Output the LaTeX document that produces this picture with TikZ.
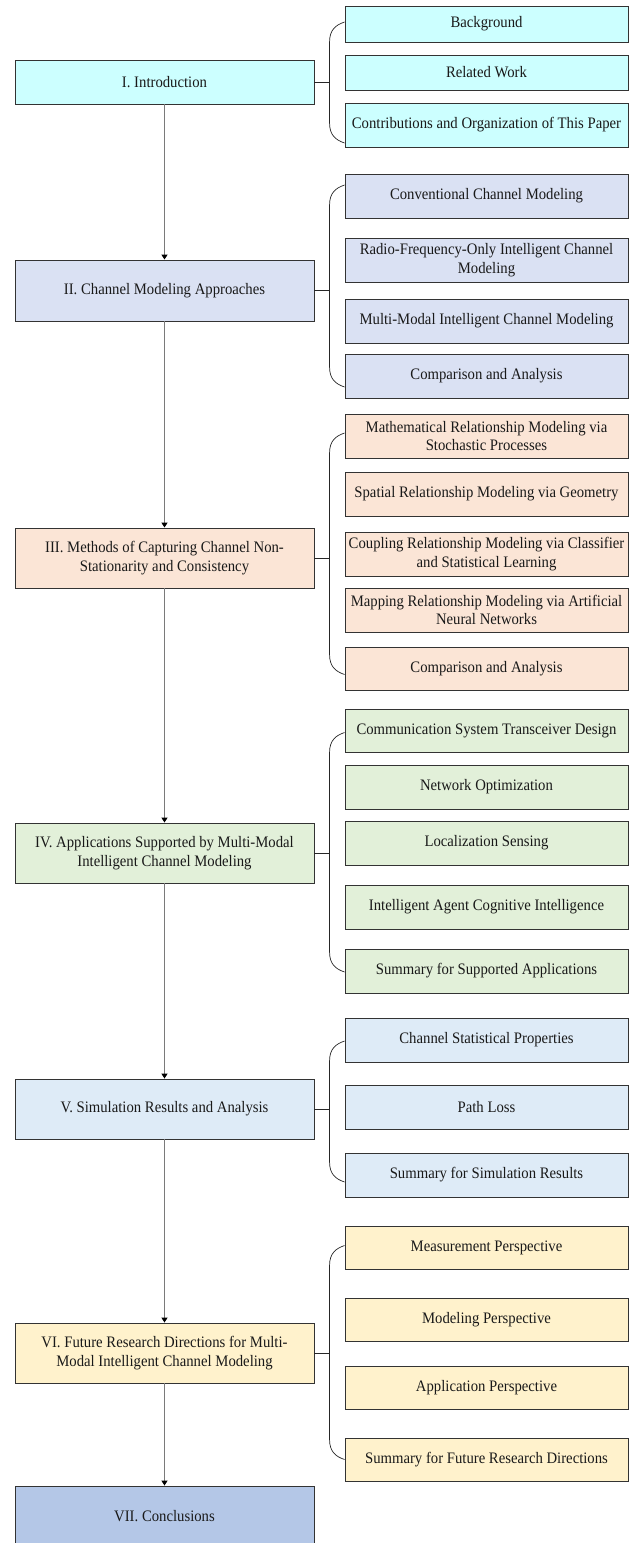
\documentclass[tikz,border=0pt]{standalone}
\usepackage{fontspec}
\setmainfont{Liberation Serif}[FakeStretch=0.92]
\usetikzlibrary{arrows.meta,calc}
\definecolor{cI}{HTML}{CCFFFF}
\definecolor{cII}{HTML}{DAE1F3}
\definecolor{cIII}{HTML}{FBE5D6}
\definecolor{cIV}{HTML}{E2F0D9}
\definecolor{cV}{HTML}{DEEBF7}
\definecolor{cVI}{HTML}{FFF2CC}
\definecolor{cVII}{HTML}{B4C7E7}
\definecolor{boxline}{HTML}{333333}
\definecolor{flowgray}{HTML}{7A7A7A}
\newcommand{\grpbrace}[4]{%
  \draw[link] ($(#1.west)+(0,#2)$) .. controls +(-9,3) and +(0,-12) .. ($(#1.west)+(-15,#2+20)$)
    -- ($(#3.west)+(-15,#4-20)$) .. controls +(0,12) and +(-9,-3) .. ($(#3.west)+(0,#4)$);}
\begin{document}
\begin{tikzpicture}[x=1pt,y=-1pt,
  box/.style={draw=boxline, line width=0.9pt, align=center, inner sep=2pt,
    font=\fontsize{16}{18.7}\selectfont, text=black!90},
  mainbox/.style={box, minimum width=299pt},
  subbox/.style={box, minimum width=283pt},
  link/.style={draw=black!85, line width=0.7pt},
  flow/.style={draw=flowgray, line width=1.7pt, -{Triangle[length=5pt,width=6pt,color=black]}}]
\useasboundingbox (0,0) rectangle (636,1543);
\clip (0,0) rectangle (636,1543);

% ---- Section I
\node[mainbox, fill=cI, minimum height=44pt] (s1) at (164.5,82) {I. Introduction};
\node[subbox, fill=cI, minimum height=36pt] (s1a) at (486.5,24) {Background};
\node[subbox, fill=cI, minimum height=35pt] (s1b) at (486.5,72.5) {Related Work};
\node[subbox, fill=cI, minimum height=44pt] (s1c) at (486.5,125) {Contributions and Organization of This Paper};
\draw[link] (s1.east) -- ++(16,0);
\grpbrace{s1a}{-2}{s1c}{18}

% ---- Section II
\node[mainbox, fill=cII, minimum height=61pt] (s2) at (164.5,290.5) {II. Channel Modeling Approaches};
\node[subbox, fill=cII, minimum height=44pt] (s2a) at (486.5,196) {Conventional Channel Modeling};
\node[subbox, fill=cII, minimum height=44pt] (s2b) at (486.5,260) {Radio-Frequency-Only Intelligent Channel\\Modeling};
\node[subbox, fill=cII, minimum height=44pt] (s2c) at (486.5,321) {Multi-Modal Intelligent Channel Modeling};
\node[subbox, fill=cII, minimum height=44pt] (s2d) at (486.5,376) {Comparison and Analysis};
\draw[link] (s2.east) -- ++(16,0);
\grpbrace{s2a}{-11}{s2d}{11}

% ---- Section III
\node[mainbox, fill=cIII, minimum height=60pt] (s3) at (164.5,558) {III. Methods of Capturing Channel Non-\\Stationarity and Consistency};
\node[subbox, fill=cIII, minimum height=44pt] (s3a) at (486.5,436) {Mathematical Relationship Modeling via\\Stochastic Processes};
\node[subbox, fill=cIII, minimum height=44pt] (s3b) at (486.5,494) {Spatial Relationship Modeling via Geometry};
\node[subbox, fill=cIII, minimum height=44pt] (s3c) at (486.5,554) {Coupling Relationship Modeling via Classifier\\and Statistical Learning};
\node[subbox, fill=cIII, minimum height=44pt] (s3d) at (486.5,610) {Mapping Relationship Modeling via Artificial\\Neural Networks};
\node[subbox, fill=cIII, minimum height=43pt] (s3e) at (486.5,668.5) {Comparison and Analysis};
\draw[link] (s3.east) -- ++(16,0);
\grpbrace{s3a}{-3}{s3e}{6}

% ---- Section IV
\node[mainbox, fill=cIV, minimum height=60pt] (s4) at (164.5,853) {IV. Applications Supported by Multi-Modal\\Intelligent Channel Modeling};
\node[subbox, fill=cIV, minimum height=43pt] (s4a) at (486.5,730.5) {Communication System Transceiver Design};
\node[subbox, fill=cIV, minimum height=44pt] (s4b) at (486.5,787) {Network Optimization};
\node[subbox, fill=cIV, minimum height=44pt] (s4c) at (486.5,843) {Localization Sensing};
\node[subbox, fill=cIV, minimum height=44pt] (s4d) at (486.5,907) {Intelligent Agent Cognitive Intelligence};
\node[subbox, fill=cIV, minimum height=44pt] (s4e) at (486.5,971) {Summary for Supported Applications};
\draw[link] (s4.east) -- ++(16,0);
\grpbrace{s4a}{2}{s4e}{1}

% ---- Section V
\node[mainbox, fill=cV, minimum height=60pt] (s5) at (164.5,1109) {V. Simulation Results and Analysis};
\node[subbox, fill=cV, minimum height=44pt] (s5a) at (486.5,1040) {Channel Statistical Properties};
\node[subbox, fill=cV, minimum height=44pt] (s5b) at (486.5,1107) {Path Loss};
\node[subbox, fill=cV, minimum height=44pt] (s5c) at (486.5,1175) {Summary for Simulation Results};
\draw[link] (s5.east) -- ++(16,0);
\grpbrace{s5a}{1}{s5c}{7}

% ---- Section VI
\node[mainbox, fill=cVI, minimum height=60pt] (s6) at (164.5,1353) {VI. Future Research Directions for Multi-\\Modal Intelligent Channel Modeling};
\node[subbox, fill=cVI, minimum height=43pt] (s6a) at (486.5,1247.5) {Measurement Perspective};
\node[subbox, fill=cVI, minimum height=43pt] (s6b) at (486.5,1319.5) {Modeling Perspective};
\node[subbox, fill=cVI, minimum height=43pt] (s6c) at (486.5,1387.5) {Application Perspective};
\node[subbox, fill=cVI, minimum height=43pt] (s6d) at (486.5,1459.5) {Summary for Future Research Directions};
\draw[link] (s6.east) -- ++(16,0);
\grpbrace{s6a}{-2}{s6d}{0}

% ---- Section VII
\node[mainbox, fill=cVII, minimum height=60pt] (s7) at (164.5,1516) {VII. Conclusions};

% ---- main flow
\draw[flow] (s1.south) -- (s2.north);
\draw[flow] (s2.south) -- (s3.north);
\draw[flow] (s3.south) -- (s4.north);
\draw[flow] (s4.south) -- (s5.north);
\draw[flow] (s5.south) -- (s6.north);
\draw[flow] (s6.south) -- (s7.north);
\end{tikzpicture}
\end{document}
